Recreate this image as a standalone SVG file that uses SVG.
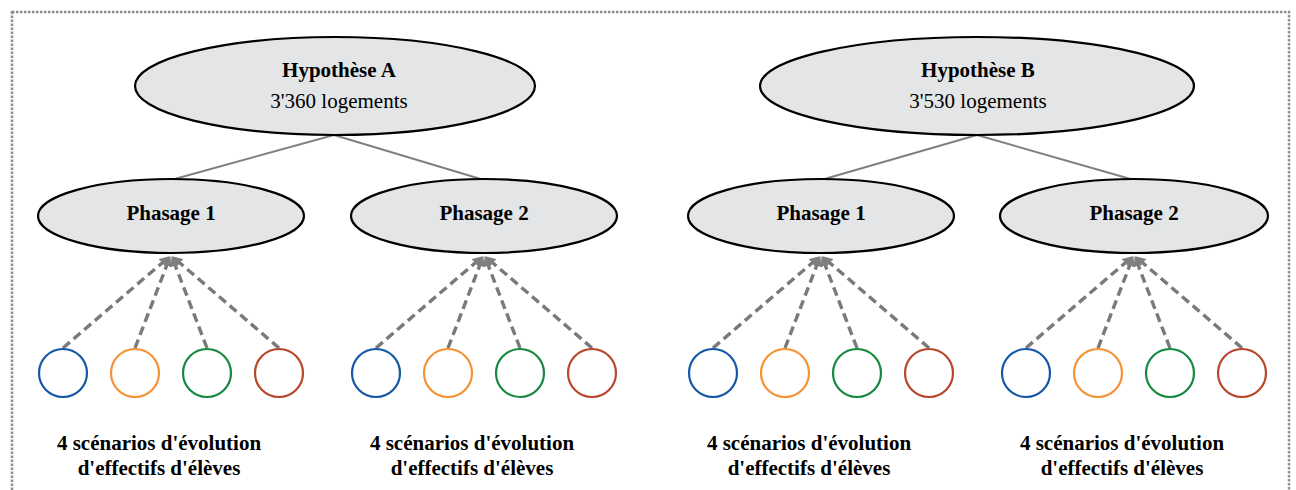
<svg xmlns="http://www.w3.org/2000/svg" width="1296" height="490" viewBox="0 0 1296 490">
<defs>
<marker id="arr" viewBox="0 0 10 10" refX="9" refY="5" markerWidth="3" markerHeight="3" orient="auto" markerUnits="strokeWidth">
<path d="M0,0 L10,5 L0,10 z" fill="#7f7f7f"/>
</marker>
</defs>
<style>
.ell{fill:#e3e5e6;stroke:#000;stroke-width:2.2}
.t{font-family:"Liberation Serif","Times New Roman",serif;font-size:21px;fill:#000;text-anchor:middle}
.b{font-weight:bold}
.solid{stroke:#808080;stroke-width:2;fill:none}
.dash{stroke:#7a7a7a;stroke-width:3.4;stroke-dasharray:9 5;fill:none;marker-end:url(#arr)}
.c{fill:#fff;stroke-width:2.2}
.c1{stroke:#1557a6}.c2{stroke:#f59233}.c3{stroke:#17883f}.c4{stroke:#b8462a}
</style>
<rect x="12" y="12" width="1277" height="500" fill="none" stroke="#8e8e8e" stroke-width="2.5" stroke-dasharray="2.5 1.5"/>
<g id="connectors">
<line class="solid" x1="334" y1="135" x2="171" y2="180"/>
<line class="solid" x1="334" y1="135" x2="484" y2="180"/>
<line class="solid" x1="977" y1="135" x2="821" y2="180"/>
<line class="solid" x1="977" y1="135" x2="1134" y2="180"/>
<line class="dash" x1="63" y1="348" x2="169" y2="257"/>
<line class="dash" x1="135" y1="348" x2="170" y2="257"/>
<line class="dash" x1="207" y1="348" x2="172" y2="257"/>
<line class="dash" x1="279" y1="348" x2="173" y2="257"/>
<line class="dash" x1="376" y1="348" x2="482" y2="257"/>
<line class="dash" x1="448" y1="348" x2="483" y2="257"/>
<line class="dash" x1="520" y1="348" x2="485" y2="257"/>
<line class="dash" x1="592" y1="348" x2="486" y2="257"/>
<line class="dash" x1="713" y1="348" x2="819" y2="257"/>
<line class="dash" x1="785" y1="348" x2="820" y2="257"/>
<line class="dash" x1="857" y1="348" x2="822" y2="257"/>
<line class="dash" x1="929" y1="348" x2="823" y2="257"/>
<line class="dash" x1="1026" y1="348" x2="1132" y2="257"/>
<line class="dash" x1="1098" y1="348" x2="1133" y2="257"/>
<line class="dash" x1="1170" y1="348" x2="1135" y2="257"/>
<line class="dash" x1="1242" y1="348" x2="1136" y2="257"/>
</g>
<g id="hypA">
<ellipse class="ell" cx="335" cy="86" rx="200" ry="49"/>
<text class="t b" x="339" y="77">Hypothèse A</text>
<text class="t" x="339" y="108">3'360 logements</text>
</g>
<g id="hypB">
<ellipse class="ell" cx="977" cy="86" rx="217" ry="49"/>
<text class="t b" x="978" y="77">Hypothèse B</text>
<text class="t" x="978" y="108">3'530 logements</text>
</g>
<g id="phA1">
<ellipse class="ell" cx="171" cy="216" rx="133" ry="37"/>
<text class="t b" x="171" y="220">Phasage 1</text>
</g>
<g id="phA2">
<ellipse class="ell" cx="484" cy="216" rx="133" ry="37"/>
<text class="t b" x="484" y="220">Phasage 2</text>
</g>
<g id="phB1">
<ellipse class="ell" cx="821" cy="216" rx="133" ry="37"/>
<text class="t b" x="821" y="220">Phasage 1</text>
</g>
<g id="phB2">
<ellipse class="ell" cx="1134" cy="216" rx="134" ry="37"/>
<text class="t b" x="1134" y="220">Phasage 2</text>
</g>
<g id="scA1">
<circle class="c c1" cx="63" cy="373" r="24"/>
<circle class="c c2" cx="135" cy="373" r="24"/>
<circle class="c c3" cx="207" cy="373" r="24"/>
<circle class="c c4" cx="279" cy="373" r="24"/>
<text class="t b" x="159" y="450">4 scénarios d'évolution</text>
<text class="t b" x="159" y="475">d'effectifs d'élèves</text>
</g>
<g id="scA2">
<circle class="c c1" cx="376" cy="373" r="24"/>
<circle class="c c2" cx="448" cy="373" r="24"/>
<circle class="c c3" cx="520" cy="373" r="24"/>
<circle class="c c4" cx="592" cy="373" r="24"/>
<text class="t b" x="472" y="450">4 scénarios d'évolution</text>
<text class="t b" x="472" y="475">d'effectifs d'élèves</text>
</g>
<g id="scB1">
<circle class="c c1" cx="713" cy="373" r="24"/>
<circle class="c c2" cx="785" cy="373" r="24"/>
<circle class="c c3" cx="857" cy="373" r="24"/>
<circle class="c c4" cx="929" cy="373" r="24"/>
<text class="t b" x="809" y="450">4 scénarios d'évolution</text>
<text class="t b" x="809" y="475">d'effectifs d'élèves</text>
</g>
<g id="scB2">
<circle class="c c1" cx="1026" cy="373" r="24"/>
<circle class="c c2" cx="1098" cy="373" r="24"/>
<circle class="c c3" cx="1170" cy="373" r="24"/>
<circle class="c c4" cx="1242" cy="373" r="24"/>
<text class="t b" x="1122" y="450">4 scénarios d'évolution</text>
<text class="t b" x="1122" y="475">d'effectifs d'élèves</text>
</g>
</svg>
